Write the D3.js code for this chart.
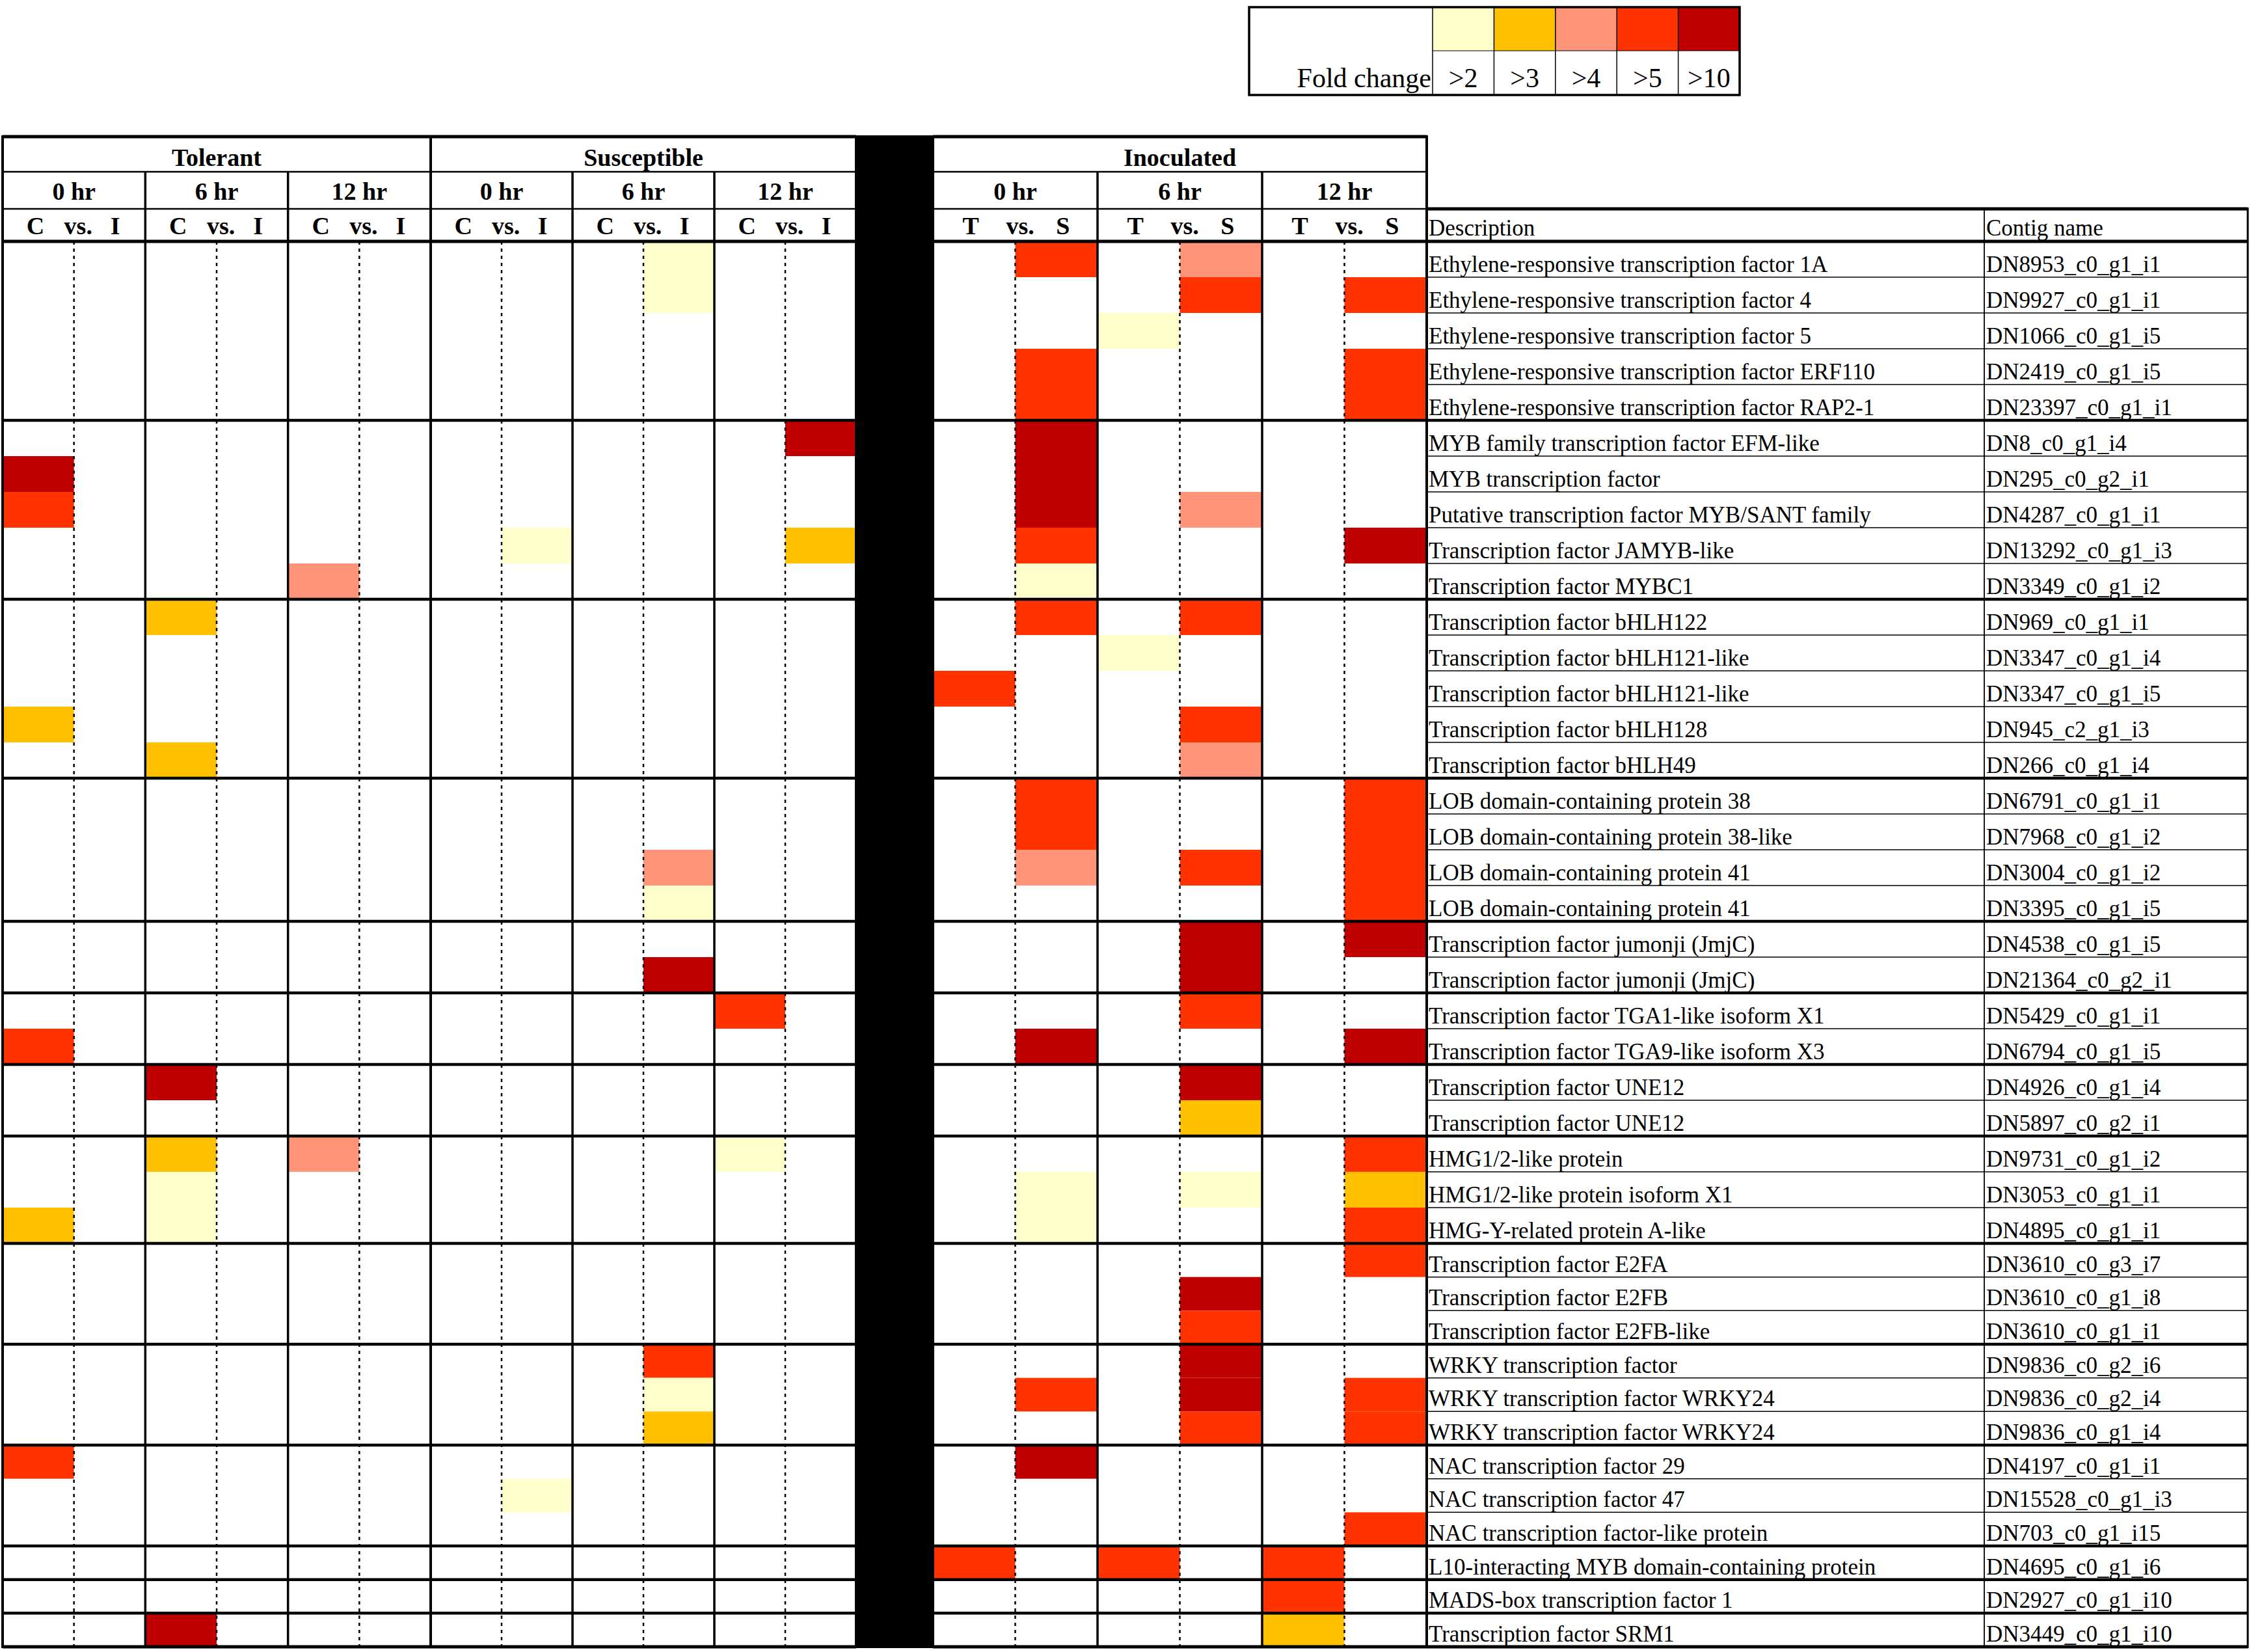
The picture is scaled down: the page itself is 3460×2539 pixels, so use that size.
<!DOCTYPE html>
<meta charset="utf-8">
<style>
body{
  margin:0;
  background:#fff;
}
text{
  font-family:'Liberation Serif','Times New Roman',serif;
  fill:#000;
}
.head{
  font-weight:bold;
  font-size:38px;
  text-anchor:middle;
}
.desc{
  font-size:35px;
}
.legend text{
  font-size:42px;
}
</style>
<body>
<script src="https://d3js.org/d3.v7.min.js"></script>
<script>

// ---- data ----
var strains = ["Tolerant", "Susceptible", "Inoculated"];
var times = ["0 hr", "6 hr", "12 hr"];
var sidesCI = ["C", "I"];
var sidesTS = ["T", "S"];

var foldLevels = [">2", ">3", ">4", ">5", ">10"];
var levelColors = ["#FFFFCC", "#FFC000", "#FF9478", "#FF3300", "#C00000"];

var descriptions = [
  "Ethylene-responsive transcription factor 1A",
  "Ethylene-responsive transcription factor 4",
  "Ethylene-responsive transcription factor 5",
  "Ethylene-responsive transcription factor ERF110",
  "Ethylene-responsive transcription factor RAP2-1",
  "MYB family transcription factor EFM-like",
  "MYB transcription factor",
  "Putative transcription factor MYB/SANT family",
  "Transcription factor JAMYB-like",
  "Transcription factor MYBC1",
  "Transcription factor bHLH122",
  "Transcription factor bHLH121-like",
  "Transcription factor bHLH121-like",
  "Transcription factor bHLH128",
  "Transcription factor bHLH49",
  "LOB domain-containing protein 38",
  "LOB domain-containing protein 38-like",
  "LOB domain-containing protein 41",
  "LOB domain-containing protein 41",
  "Transcription factor jumonji (JmjC)",
  "Transcription factor jumonji (JmjC)",
  "Transcription factor TGA1-like isoform X1",
  "Transcription factor TGA9-like isoform X3",
  "Transcription factor UNE12",
  "Transcription factor UNE12",
  "HMG1/2-like protein",
  "HMG1/2-like protein isoform X1",
  "HMG-Y-related protein A-like",
  "Transcription factor E2FA",
  "Transcription factor E2FB",
  "Transcription factor E2FB-like",
  "WRKY transcription factor",
  "WRKY transcription factor WRKY24",
  "WRKY transcription factor WRKY24",
  "NAC transcription factor 29",
  "NAC transcription factor 47",
  "NAC transcription factor-like protein",
  "L10-interacting MYB domain-containing protein",
  "MADS-box transcription factor 1",
  "Transcription factor SRM1"
];

var contigs = [
  "DN8953_c0_g1_i1", "DN9927_c0_g1_i1", "DN1066_c0_g1_i5", "DN2419_c0_g1_i5", "DN23397_c0_g1_i1",
  "DN8_c0_g1_i4", "DN295_c0_g2_i1", "DN4287_c0_g1_i1", "DN13292_c0_g1_i3", "DN3349_c0_g1_i2",
  "DN969_c0_g1_i1", "DN3347_c0_g1_i4", "DN3347_c0_g1_i5", "DN945_c2_g1_i3", "DN266_c0_g1_i4",
  "DN6791_c0_g1_i1", "DN7968_c0_g1_i2", "DN3004_c0_g1_i2", "DN3395_c0_g1_i5",
  "DN4538_c0_g1_i5", "DN21364_c0_g2_i1",
  "DN5429_c0_g1_i1", "DN6794_c0_g1_i5",
  "DN4926_c0_g1_i4", "DN5897_c0_g2_i1",
  "DN9731_c0_g1_i2", "DN3053_c0_g1_i1", "DN4895_c0_g1_i1",
  "DN3610_c0_g3_i7", "DN3610_c0_g1_i8", "DN3610_c0_g1_i1",
  "DN9836_c0_g2_i6", "DN9836_c0_g2_i4", "DN9836_c0_g1_i4",
  "DN4197_c0_g1_i1", "DN15528_c0_g1_i3", "DN703_c0_g1_i15",
  "DN4695_c0_g1_i6", "DN2927_c0_g1_i10", "DN3449_c0_g1_i10"
];

// rows per gene family block
var groupSizes = [5, 5, 5, 4, 2, 2, 2, 3, 3, 3, 3, 1, 1, 1];

// coloured cells: [time index, side (0 = C/T, 1 = I/S), row, fold level index]
var tolerantCells = [
  [0,0,6,4],[0,0,7,3],[0,0,13,1],[0,0,22,3],[0,0,27,1],[0,0,34,3],
  [1,0,10,1],[1,0,14,1],[1,0,23,4],[1,0,25,1],[1,0,26,0],[1,0,27,0],[1,0,39,4],
  [2,0,9,2],[2,0,25,2]
];
var susceptibleCells = [
  [0,1,8,0],[0,1,35,0],
  [1,1,0,0],[1,1,1,0],[1,1,17,2],[1,1,18,0],[1,1,20,4],[1,1,31,3],[1,1,32,0],[1,1,33,1],
  [2,0,21,3],[2,0,25,0],
  [2,1,5,4],[2,1,8,1]
];
var inoculatedCells = [
  [0,1,0,3],[0,1,3,3],[0,1,4,3],[0,1,5,4],[0,1,6,4],[0,1,7,4],[0,1,8,3],[0,1,9,0],
  [0,1,10,3],[0,1,15,3],[0,1,16,3],[0,1,17,2],[0,1,22,4],[0,1,26,0],[0,1,27,0],
  [0,1,32,3],[0,1,34,4],
  [0,0,12,3],[0,0,37,3],
  [1,0,2,0],[1,0,11,0],[1,0,37,3],
  [1,1,0,2],[1,1,1,3],[1,1,7,2],[1,1,10,3],[1,1,13,3],[1,1,14,2],[1,1,17,3],
  [1,1,19,4],[1,1,20,4],[1,1,21,3],[1,1,23,4],[1,1,24,1],[1,1,26,0],[1,1,29,4],
  [1,1,30,3],[1,1,31,4],[1,1,32,4],[1,1,33,3],
  [2,0,37,3],[2,0,38,3],[2,0,39,1],
  [2,1,1,3],[2,1,3,3],[2,1,4,3],[2,1,8,4],[2,1,15,3],[2,1,16,3],[2,1,17,3],[2,1,18,3],
  [2,1,19,4],[2,1,22,4],[2,1,25,3],[2,1,26,1],[2,1,27,3],[2,1,28,3],[2,1,32,3],
  [2,1,33,3],[2,1,36,3]
];

// ---- layout ----
var W = 3460, H = 2539;
var yTop = 210, yStrain = 264, yTime = 321, yData = 371, yBottom = 2531;

var svg = d3.select("body").append("svg").attr("width", W).attr("height", H);

// rows in the lower blocks of the original table are a little shorter
var nRows = descriptions.length;
var yRow = d3.scaleLinear().domain([0, 28, nRows]).range([yData, 1911, yBottom]);
function rowH(i){ return yRow(i + 1) - yRow(i); }

// row index where each block ends
var groupEnds = d3.cumsum(groupSizes).slice(0, -1);

var panels = [
  {name: strains[0], x0: 4,    x1: 662,  sides: sidesCI, cells: tolerantCells},
  {name: strains[1], x0: 662,  x1: 1316, sides: sidesCI, cells: susceptibleCells},
  {name: strains[2], x0: 1434, x1: 2193, sides: sidesTS, cells: inoculatedCells}
];

var gCells = svg.append("g");
var gLines = svg.append("g");
var gText = svg.append("g");

panels.forEach(function(p){
  var xT = d3.scaleBand().domain(times).range([p.x0, p.x1]);
  var xS = d3.scaleBand().domain([0, 1]).range([0, xT.bandwidth()]);

  gCells.selectAll(null).data(p.cells).enter().append("rect")
    .attr("x", d => xT(times[d[0]]) + xS(d[1]))
    .attr("y", d => yRow(d[2]))
    .attr("width", xS.bandwidth())
    .attr("height", d => rowH(d[2]))
    .attr("fill", d => levelColors[d[3]]);

  // dotted middle lines
  gLines.selectAll(null).data(times).enter().append("line")
    .attr("x1", t => xT(t) + xT.bandwidth() / 2)
    .attr("x2", t => xT(t) + xT.bandwidth() / 2)
    .attr("y1", yData).attr("y2", yBottom)
    .attr("stroke", "#000").attr("stroke-width", 2.5)
    .attr("stroke-dasharray", "5,6");

  // time column borders
  gLines.selectAll(null).data(times.slice(1)).enter().append("line")
    .attr("x1", t => xT(t)).attr("x2", t => xT(t))
    .attr("y1", yStrain).attr("y2", yBottom)
    .attr("stroke", "#000").attr("stroke-width", 3.5);

  // panel borders
  [p.x0, p.x1].forEach(function(xx){
    gLines.append("line").attr("x1", xx).attr("x2", xx)
      .attr("y1", yTop - 2).attr("y2", yBottom + 2)
      .attr("stroke", "#000").attr("stroke-width", 4);
  });

  // horizontal rules
  [[yTop, 5], [yStrain, 2.5], [yTime, 2.5], [yData, 5], [yBottom, 5]].forEach(function(r){
    gLines.append("line").attr("x1", p.x0).attr("x2", p.x1)
      .attr("y1", r[0]).attr("y2", r[0])
      .attr("stroke", "#000").attr("stroke-width", r[1]);
  });
  gLines.selectAll(null).data(groupEnds).enter().append("line")
    .attr("x1", p.x0).attr("x2", p.x1)
    .attr("y1", i => yRow(i)).attr("y2", i => yRow(i))
    .attr("stroke", "#000").attr("stroke-width", 4.5);

  // headers
  gText.append("text").attr("class", "head")
    .attr("x", (p.x0 + p.x1) / 2).attr("y", yStrain - 9)
    .text(p.name);
  gText.selectAll(null).data(times).enter().append("text").attr("class", "head")
    .attr("x", t => xT(t) + xT.bandwidth() / 2).attr("y", yTime - 14)
    .text(t => t);
  times.forEach(function(t){
    var bw = xT.bandwidth();
    [[p.sides[0], 0.23], ["vs.", 0.53], [p.sides[1], 0.79]].forEach(function(s){
      gText.append("text").attr("class", "head")
        .attr("x", xT(t) + bw * s[1]).attr("y", yData - 11)
        .text(s[0]);
    });
  });
});

// black separator bar
svg.append("rect")
  .attr("x", panels[1].x1).attr("y", yTop - 2)
  .attr("width", panels[2].x0 - panels[1].x1)
  .attr("height", yBottom - yTop + 4)
  .attr("fill", "#000");

// ---- description / contig table ----
var xDesc = 2193, xContig = 3050, xRight = 3455;

gLines.selectAll(null).data(d3.range(1, nRows)).enter().append("line")
  .attr("x1", xDesc).attr("x2", xRight)
  .attr("y1", i => yRow(i)).attr("y2", i => yRow(i))
  .attr("stroke", "#000")
  .attr("stroke-width", i => groupEnds.indexOf(i) >= 0 ? 4.5 : 1.5);

[[yTime, 5], [yData, 5], [yBottom, 5]].forEach(function(r){
  gLines.append("line").attr("x1", xDesc).attr("x2", xRight)
    .attr("y1", r[0]).attr("y2", r[0])
    .attr("stroke", "#000").attr("stroke-width", r[1]);
});
gLines.append("line").attr("x1", xContig).attr("x2", xContig)
  .attr("y1", yTime).attr("y2", yBottom)
  .attr("stroke", "#000").attr("stroke-width", 1.8);
gLines.append("line").attr("x1", xRight).attr("x2", xRight)
  .attr("y1", yTime - 2).attr("y2", yBottom + 2)
  .attr("stroke", "#000").attr("stroke-width", 3);

gText.append("text").attr("class", "desc").attr("x", xDesc + 3).attr("y", yData - 9).text("Description");
gText.append("text").attr("class", "desc").attr("x", xContig + 3).attr("y", yData - 9).text("Contig name");

gText.selectAll(null).data(descriptions).enter().append("text").attr("class", "desc")
  .attr("x", xDesc + 3)
  .attr("y", (d, i) => yRow(i + 1) - 8)
  .text(d => d);
gText.selectAll(null).data(contigs).enter().append("text").attr("class", "desc")
  .attr("x", xContig + 3)
  .attr("y", (d, i) => yRow(i + 1) - 8)
  .text(d => d);

// ---- legend ----
var lg = svg.append("g").attr("class", "legend");
var lx0 = 1920, lxLabel = 2202, lx1 = 2674, ly0 = 11, lyMid = 78, ly1 = 146;
var xL = d3.scaleBand().domain(foldLevels).range([lxLabel, lx1]);

lg.selectAll(null).data(foldLevels).enter().append("rect")
  .attr("x", d => xL(d)).attr("y", ly0)
  .attr("width", xL.bandwidth()).attr("height", lyMid - ly0)
  .attr("fill", (d, i) => levelColors[i]);
lg.selectAll(null).data(foldLevels).enter().append("line")
  .attr("x1", d => xL(d)).attr("x2", d => xL(d))
  .attr("y1", ly0).attr("y2", ly1)
  .attr("stroke", "#000").attr("stroke-width", 1.5);
lg.append("line").attr("x1", lxLabel).attr("x2", lx1)
  .attr("y1", lyMid).attr("y2", lyMid)
  .attr("stroke", "#000").attr("stroke-width", 1.2);
lg.append("rect").attr("x", lx0).attr("y", ly0)
  .attr("width", lx1 - lx0).attr("height", ly1 - ly0)
  .attr("fill", "none").attr("stroke", "#000").attr("stroke-width", 3.5);
lg.selectAll(null).data(foldLevels).enter().append("text")
  .attr("x", d => xL(d) + xL.bandwidth() / 2).attr("y", ly1 - 12)
  .attr("text-anchor", "middle")
  .text(d => d);
lg.append("text").attr("x", lxLabel - 2).attr("y", ly1 - 12)
  .attr("text-anchor", "end").text("Fold change");

</script>
</body>
